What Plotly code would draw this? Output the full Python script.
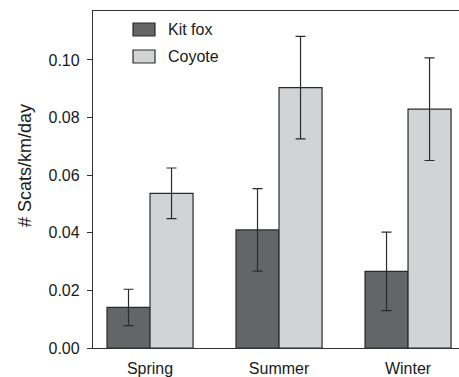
import plotly.graph_objects as go

seasons = ["Spring", "Summer", "Winter"]
kit_fox = [0.0141, 0.0410, 0.0266]
kit_fox_err = [0.0063, 0.0143, 0.0136]
coyote = [0.0537, 0.0904, 0.0829]
coyote_err = [0.0088, 0.0178, 0.0178]
y_ticks = [0.00, 0.02, 0.04, 0.06, 0.08, 0.10]

W, H = 459, 377
L, R, T, B = 93, 0, 11, 29
PW, PH = W - L - R, H - T - B

font = dict(family="Liberation Sans, Arial, sans-serif", size=16, color="#1a1a1a")
edge = dict(color="#2b2b2b", width=1.2)
err_style = dict(type="data", thickness=1.2, width=5, color="#2b2b2b")

fig = go.Figure()
fig.add_trace(go.Bar(
    name="Kit fox", x=seasons, y=kit_fox,
    error_y=dict(array=kit_fox_err, **err_style),
    marker=dict(color="#646567", line=edge),
))
fig.add_trace(go.Bar(
    name="Coyote", x=seasons, y=coyote,
    error_y=dict(array=coyote_err, **err_style),
    marker=dict(color="#d2d3d5", line=edge),
))

# pixel -> paper helpers for the hand-placed legend and axis title
def px_x(x):
    return (x - L) / PW

def px_y(y):
    return 1 - (y - T) / PH

shapes, annotations = [], []
for (y0, y1), name, col in [((23, 36), "Kit fox", "#646567"), ((50, 63), "Coyote", "#d2d3d5")]:
    shapes.append(dict(type="rect", xref="paper", yref="paper",
                       x0=px_x(133), x1=px_x(155), y0=px_y(y1), y1=px_y(y0),
                       fillcolor=col, line=dict(color="#2b2b2b", width=1.2)))
    annotations.append(dict(xref="paper", yref="paper", x=px_x(166), y=px_y((y0 + y1) / 2),
                            text=name, showarrow=False, xanchor="left", yanchor="middle",
                            font=font))

annotations.append(dict(xref="paper", yref="paper", x=px_x(25), y=px_y(166),
                        text="# Scats/km/day", textangle=-90, showarrow=False,
                        xanchor="center", yanchor="middle",
                        font=dict(font, size=18)))

fig.update_layout(
    width=W, height=H,
    margin=dict(l=L, r=R, t=T, b=B, pad=0),
    paper_bgcolor="white", plot_bgcolor="white",
    barmode="group", bargap=0.333, bargroupgap=0,
    showlegend=False,
    font=font,
    shapes=shapes, annotations=annotations,
    xaxis=dict(range=[-0.442, 2.395], showline=True, linecolor="#333333", linewidth=1.3,
               mirror=True, ticks="", showgrid=False, zeroline=False,
               tickfont=font, ticklabelstandoff=6),
    yaxis=dict(range=[0, 0.117], tickvals=y_ticks, tickformat=".2f",
               showline=True, linecolor="#333333", linewidth=1.3,
               ticks="outside", ticklen=5, tickcolor="#333333", tickwidth=1.2,
               showgrid=False, zeroline=False, tickfont=font, ticklabelstandoff=4),
)

fig.write_html("out.html")
